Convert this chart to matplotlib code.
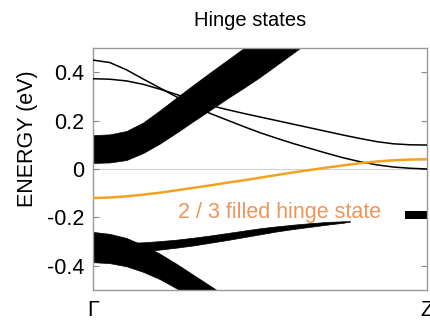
import matplotlib
matplotlib.use("Agg")
import matplotlib.pyplot as plt

plt.rcParams['font.family'] = ['Liberation Sans', 'DejaVu Sans']

# valores (k: 0 = Gamma, 1 = Z ; energia em eV)
k_line = [0, 0.05, 0.1, 0.15, 0.2, 0.25, 0.3, 0.35, 0.4, 0.45, 0.5,
          0.55, 0.6, 0.65, 0.7, 0.75, 0.8, 0.85, 0.9, 0.95, 1.0]
e_orange = [-0.12, -0.118, -0.113, -0.106, -0.098, -0.088, -0.078, -0.068, -0.057, -0.047, -0.036,
            -0.025, -0.014, -0.004, 0.006, 0.015, 0.024, 0.031, 0.036, 0.039, 0.04]
e_thin1 = [0.45, 0.44, 0.41, 0.372, 0.335, 0.298, 0.262, 0.23, 0.203, 0.176, 0.15,
           0.127, 0.105, 0.085, 0.065, 0.046, 0.03, 0.017, 0.008, 0.003, 0.0]
e_thin2 = [0.373, 0.371, 0.364, 0.35, 0.33, 0.308, 0.285, 0.263, 0.246, 0.23, 0.215,
           0.2, 0.185, 0.17, 0.155, 0.14, 0.126, 0.113, 0.104, 0.1, 0.099]

# banda de conducao (feixe grosso)
k_cb = [0, 0.05, 0.1, 0.15, 0.2, 0.25, 0.3, 0.35, 0.4, 0.45, 0.5, 0.55, 0.6, 0.65]
e_cb_top = [0.14, 0.143, 0.157, 0.192, 0.242, 0.295, 0.347, 0.398, 0.448, 0.498, 0.55, 0.6, 0.65, 0.7]
e_cb_bot = [0.025, 0.027, 0.037, 0.066, 0.105, 0.15, 0.197, 0.243, 0.29, 0.334, 0.38, 0.43, 0.48, 0.53]

# banda de valencia descendo
k_vb = [0, 0.05, 0.1, 0.15, 0.2, 0.25, 0.3, 0.35, 0.4]
e_vb_top = [-0.26, -0.268, -0.285, -0.315, -0.35, -0.392, -0.437, -0.482, -0.527]
e_vb_bot = [-0.385, -0.389, -0.402, -0.425, -0.455, -0.493, -0.535, -0.58, -0.62]

# banda de valencia subindo (fina)
k_vb2 = [0.0, 0.05, 0.1, 0.15, 0.2, 0.25, 0.3, 0.35, 0.4, 0.45, 0.5, 0.55, 0.6, 0.65, 0.7, 0.75, 0.77]
e_vb2_top = [-0.28, -0.295, -0.305, -0.303, -0.298, -0.292, -0.284, -0.275, -0.265, -0.255, -0.245,
             -0.237, -0.23, -0.224, -0.219, -0.216, -0.216]
e_vb2_bot = [-0.34, -0.345, -0.345, -0.34, -0.333, -0.325, -0.316, -0.305, -0.294, -0.282, -0.27,
             -0.258, -0.248, -0.239, -0.23, -0.222, -0.217]

# marcador curto perto de Z
k_bar = [0.935, 1.0]
e_bar_top = [-0.174, -0.174]
e_bar_bot = [-0.207, -0.207]

fig = plt.figure(figsize=(4.3, 3.23), dpi=100)
ax = fig.add_axes([0.2163, 0.1022, 0.7767, 0.7492])

ax.axhline(0, color='#d0d0d0', lw=0.8, zorder=1)

ax.fill_between(k_cb, e_cb_bot, e_cb_top, color='black', lw=0.5, zorder=2)
ax.fill_between(k_vb, e_vb_bot, e_vb_top, color='black', lw=0.5, zorder=2)
ax.fill_between(k_vb2, e_vb2_bot, e_vb2_top, color='black', lw=0.5, zorder=2)
ax.fill_between(k_bar, e_bar_bot, e_bar_top, color='black', lw=0, zorder=2)

ax.plot(k_line, e_thin1, color='black', lw=1.1, zorder=3)
ax.plot(k_line, e_thin2, color='black', lw=1.1, zorder=3)

ax.plot(k_line, e_orange, color='#f3a21f', lw=1.8, zorder=4)
ax.text(0.255, -0.18, "2 / 3 filled hinge state", color='#f0955a', fontsize=15.5,
        va='center', ha='left')

ax.set_xlim(0, 1)
ax.set_ylim(-0.5, 0.5)
ax.set_xticks([0, 1])
ax.set_xticklabels(["Γ", "Z"])
ax.set_yticks([-0.4, -0.2, 0, 0.2, 0.4])
ax.set_yticklabels(["-0.4", "-0.2", "0", "0.2", "0.4"])
ax.tick_params(axis='y', direction='in', length=4, right=True, labelsize=15.5,
               color='#888888', pad=6)
ax.tick_params(axis='x', length=0, labelsize=15.5, pad=7)
for s in ax.spines.values():
    s.set_color('#999999')
    s.set_linewidth(1.0)

ax.set_ylabel("ENERGY (eV)", fontsize=15.5)
ax.yaxis.set_label_coords(-0.165, 0.626)
ax.set_title("Hinge states", fontsize=14.5, pad=16, x=0.47)

fig.savefig("out.png", dpi=100)
